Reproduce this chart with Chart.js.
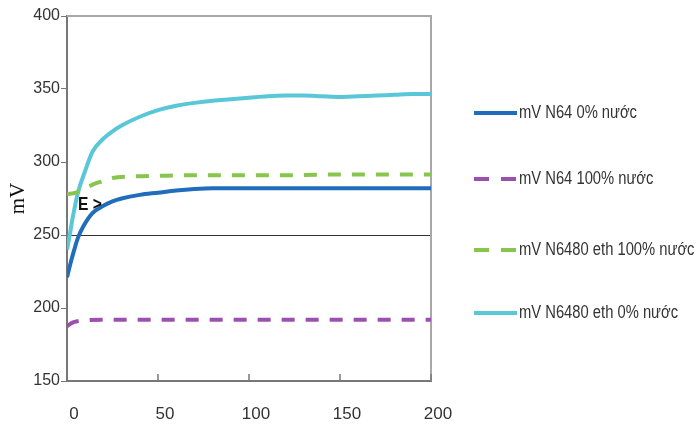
<!DOCTYPE html>
<html>
<head>
<meta charset="utf-8">
<script src="https://cdn.jsdelivr.net/npm/chart.js@4.4.1/dist/chart.umd.min.js"></script>
<style>
  html, body { margin: 0; background: #fff; }
  canvas { display: block; }
</style>
</head>
<body>
<canvas id="chart" width="697" height="430"></canvas>
<script>
// Series labels (legend order)
const seriesLabels = ['mV N64 0% nước', 'mV N64 100% nước', 'mV N6480 eth 100% nước', 'mV N6480 eth 0% nước'];

// mV N64 0% nước (solid blue)
const n64DryX = [0, 2, 4, 6, 9, 14, 20, 25, 30, 40, 50, 60, 70, 80, 100, 120, 140, 160, 180, 200];
const n64DryY = [221, 231, 240, 248, 256, 265, 270, 273, 275, 277.5, 279, 280.5, 281.5, 282, 282, 282, 282, 282, 282, 282];

// mV N64 100% nước (dashed purple)
const n64WetX = [0, 3, 6, 10, 20, 50, 100, 150, 200];
const n64WetY = [187.5, 190, 191, 191.5, 192, 192, 192, 192, 192];

// mV N6480 eth 100% nước (dashed green)
const ethWetX = [0, 5, 10, 15, 20, 25, 35, 50, 75, 100, 125, 150, 175, 200];
const ethWetY = [278, 279, 282, 285, 287, 289, 290, 290.5, 291, 291, 291, 291.5, 291.5, 291.5];

// mV N6480 eth 0% nước (solid cyan)
const ethDryX = [0, 1.5, 3, 6, 10, 14, 20, 25, 30, 40, 50, 60, 70, 80, 90, 100, 110, 120, 130, 140, 150, 160, 170, 180, 190, 200];
const ethDryY = [240, 250, 261, 279, 294, 307, 316, 321, 325, 331, 335.5, 338.5, 340.5, 342, 343, 344, 345, 345.5, 345.5, 345, 344.5, 345, 345.5, 346, 346.5, 346.5];

// Axis ticks
const xTicks = [0, 50, 100, 150, 200];
const yTicks = [150, 200, 250, 300, 350, 400];
const refLine = 250;

// Annotation
const noteText = 'E >';
const notePoint = { x: 6, y: 270.5 };

const colors = ['#1f6dbb', '#9c4fae', '#88c54e', '#5ac7d8'];
const SANS = "'Liberation Sans', Arial, sans-serif";
const SQUEEZE = 0.82; // mimic a condensed face

const pts = (xs, ys) => xs.map((x, i) => ({ x, y: ys[i] }));

const frame = {
  id: 'frame',
  beforeDatasetsDraw(chart) {
    const { ctx, chartArea: a, scales } = chart;
    ctx.save();
    ctx.strokeStyle = '#a8a8a8';
    ctx.lineWidth = 2;
    ctx.beginPath();
    ctx.moveTo(a.left, a.top);
    ctx.lineTo(a.right, a.top);
    ctx.lineTo(a.right, a.bottom);
    ctx.stroke();
    // x tick marks point inward
    ctx.strokeStyle = '#777';
    ctx.lineWidth = 1.5;
    xTicks.forEach(v => {
      const px = scales.x.getPixelForValue(v);
      ctx.beginPath();
      ctx.moveTo(px, a.bottom);
      ctx.lineTo(px, a.bottom - 7);
      ctx.stroke();
    });
    ctx.restore();
  }
};

function squeezedText(ctx, text, x, y) {
  ctx.save();
  ctx.translate(x, y);
  ctx.scale(SQUEEZE, 1);
  ctx.fillText(text, 0, 0);
  ctx.restore();
}

const sideLegend = {
  id: 'sideLegend',
  afterDraw(chart, args, opts) {
    const { ctx } = chart;
    ctx.save();
    chart.data.datasets.forEach((ds, i) => {
      const y = opts.rows[i];
      ctx.strokeStyle = ds.borderColor;
      ctx.lineWidth = 4;
      ctx.setLineDash(ds.borderDash && ds.borderDash.length ? [15, 12] : []);
      ctx.beginPath();
      ctx.moveTo(opts.x, y);
      ctx.lineTo(opts.x + 43, y);
      ctx.stroke();
      ctx.setLineDash([]);
      ctx.fillStyle = '#333';
      ctx.font = '18px ' + SANS;
      ctx.textBaseline = 'middle';
      squeezedText(ctx, ds.label, opts.x + 45, y);
    });
    // annotation
    const px = chart.scales.x.getPixelForValue(notePoint.x);
    const py = chart.scales.y.getPixelForValue(notePoint.y);
    ctx.fillStyle = '#111';
    ctx.font = 'bold 19px ' + SANS;
    ctx.textBaseline = 'middle';
    squeezedText(ctx, noteText, px, py);
    ctx.restore();
  }
};

const mk = (i, xs, ys, dashed) => ({
  label: seriesLabels[i],
  data: pts(xs, ys),
  borderColor: colors[i],
  backgroundColor: colors[i],
  borderWidth: 4,
  borderDash: dashed ? [13, 11] : [],
  pointRadius: 0,
  cubicInterpolationMode: 'monotone',
  fill: false,
});

new Chart(document.getElementById('chart'), {
  type: 'line',
  data: {
    datasets: [
      mk(0, n64DryX, n64DryY, false),
      mk(1, n64WetX, n64WetY, true),
      mk(2, ethWetX, ethWetY, true),
      mk(3, ethDryX, ethDryY, false),
    ]
  },
  plugins: [frame, sideLegend],
  options: {
    responsive: false,
    animation: false,
    layout: { padding: { top: 16, right: 266, left: 0, bottom: 0 } },
    plugins: {
      legend: { display: false },
      tooltip: { enabled: false },
      sideLegend: { x: 474, rows: [113, 179, 250, 313] },
    },
    scales: {
      x: {
        type: 'linear', min: 0, max: 200,
        afterBuildTicks: s => { s.ticks = xTicks.map(v => ({ value: v })); },
        afterFit: s => { s.height = 49; },
        ticks: { color: '#333', font: { family: SANS, size: 17 }, padding: 23, labelOffset: 7, maxRotation: 0 },
        grid: { drawOnChartArea: false, drawTicks: false },
        border: { color: '#777', width: 2 },
      },
      y: {
        min: 150, max: 400,
        afterBuildTicks: s => { s.ticks = yTicks.map(v => ({ value: v })); },
        afterFit: s => { s.width = 67; },
        ticks: { color: '#333', font: { family: SANS, size: 16 }, padding: 1 },
        grid: {
          color: c => (c.tick && c.tick.value === refLine ? '#333' : 'rgba(0,0,0,0)'),
          tickColor: '#777', tickLength: 6, lineWidth: 1,
        },
        border: { color: '#777', width: 2 },
        title: { display: true, text: 'mV', color: '#111', font: { family: "'Liberation Serif', 'Times New Roman', serif", size: 21 }, padding: { top: 6, bottom: 0 } },
      }
    }
  }
});
</script>
</body>
</html>
